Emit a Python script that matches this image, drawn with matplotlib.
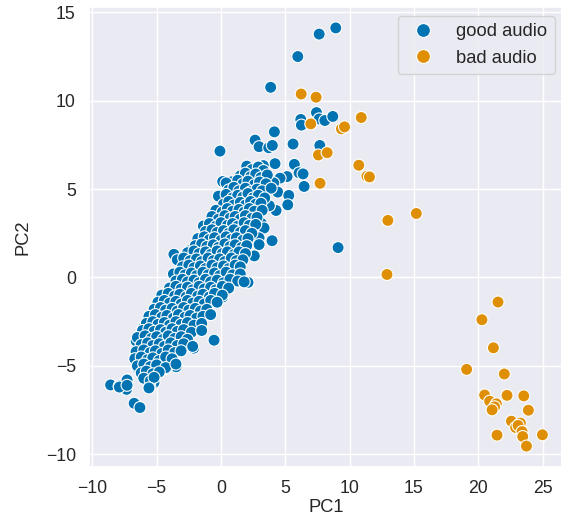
import matplotlib
matplotlib.use("Agg")
import matplotlib.pyplot as plt
import seaborn as sns
import pandas as pd

# bad audio points (PC1, PC2)
bad_x = [6.23, 7.39, 10.9, 6.98, 9.36, 9.6, 7.57, 8.25, 10.71, 11.34, 11.54, 7.7,
         15.18, 12.97, 12.9, 21.53, 20.28, 21.17, 19.09, 22.02, 20.49, 20.88, 21.4,
         21.27, 21.07, 22.23, 23.53, 23.89, 22.57, 23.27, 22.9, 23.09, 23.4, 23.45,
         21.45, 24.98, 23.74]
bad_y = [10.38, 10.2, 9.05, 8.69, 8.41, 8.52, 6.93, 7.06, 6.35, 5.73, 5.69, 5.33,
         3.62, 3.23, 0.17, -1.39, -2.39, -3.98, -5.2, -5.46, -6.65, -7.0, -7.15,
         -7.32, -7.49, -6.67, -6.7, -7.51, -8.13, -8.24, -8.49, -8.37, -8.72, -9.0,
         -8.92, -8.9, -9.54]

# good audio: outliers around the main cluster
good_out = [
    (8.92, 14.12), (7.63, 13.77), (5.97, 12.5), (3.86, 10.76), (7.42, 9.33),
    (6.2, 8.94), (6.25, 8.62), (7.63, 8.97), (8.07, 8.88), (8.69, 9.11),
    (4.15, 8.24), (5.6, 7.55), (7.68, 7.47), (2.65, 7.77), (2.96, 7.4),
    (3.71, 7.34), (3.99, 7.47), (4.2, 6.44), (5.7, 6.4), (3.29, 6.33),
    (3.03, 5.99), (6.07, 5.92), (6.38, 5.86), (5.14, 5.71), (4.59, 5.62),
    (6.46, 5.15), (4.1, 5.35), (4.41, 4.83), (5.27, 4.64), (5.19, 4.11),
    (4.28, 3.79), (3.76, 4.06), (3.97, 2.08), (9.1, 1.69), (3.14, 3.06),
    (3.35, 2.8), (2.96, 2.24), (2.96, 1.86), (2.59, 1.22), (-0.08, 7.15),
    (2.33, 6.12), (2.0, 6.03), (0.13, 5.43), (0.8, 5.41), (1.66, 5.65),
    (2.52, 5.52), (-1.37, 2.91), (-3.66, 1.31), (-2.44, 1.52), (2.1, -0.28),
    (0.13, -1.11), (-0.54, -3.55), (-2.12, -4.0), (-4.77, -1.56), (-6.04, -2.85),
    (-6.59, -3.6), (-6.72, -4.55), (-6.51, -5.09), (-7.26, -5.77), (-8.58, -6.08),
    (-7.91, -6.14), (-7.34, -6.33), (-6.75, -7.12), (-6.3, -7.36), (-5.21, -5.95),
    (-5.84, -5.48), (-5.53, -6.18), (-3.48, -5.05), (-4.26, -5.15),
]

# good audio: the dense cluster, estimated row by row
good_core = [
    (2.0, 6.3), (2.4, 6.1), (2.9, 6.25), (3.3, 6.05),
    (1.5, 5.75), (1.9, 5.9), (2.3, 5.7), (2.7, 5.85), (3.1, 5.65), (3.6, 5.8),
    (0.4, 5.35), (1.3, 5.5), (1.7, 5.3), (2.1, 5.45), (2.6, 5.25), (3.0, 5.4), (3.5, 5.3),
    (0.6, 4.95), (1.0, 5.1), (1.4, 4.9), (1.9, 5.05), (2.3, 4.85), (2.8, 5.0), (3.2, 4.9), (3.9, 5.05),
    (-0.2, 4.6), (0.4, 4.7), (0.9, 4.5), (1.3, 4.65), (1.7, 4.55), (2.1, 4.75), (2.5, 4.5), (2.9, 4.65), (3.4, 4.5),
    (0.2, 4.15), (0.6, 4.3), (1.0, 4.1), (1.5, 4.25), (1.9, 4.1), (2.3, 4.3), (2.7, 4.15), (3.1, 4.2),
    (-0.4, 3.8), (0.1, 3.7), (0.5, 3.9), (0.9, 3.75), (1.4, 3.85), (1.8, 3.7), (2.2, 3.9), (2.6, 3.75), (3.2, 3.8),
    (-0.7, 3.45), (-0.2, 3.3), (0.3, 3.5), (0.7, 3.35), (1.1, 3.45), (1.5, 3.3), (1.9, 3.5), (2.4, 3.35), (2.8, 3.4),
    (-0.9, 3.05), (-0.4, 2.9), (0.0, 3.1), (0.5, 2.95), (0.9, 3.05), (1.3, 2.9), (1.8, 3.1), (2.2, 2.95), (2.7, 3.0),
    (-1.2, 2.6), (-0.7, 2.7), (-0.3, 2.55), (0.2, 2.65), (0.6, 2.5), (1.0, 2.7), (1.5, 2.55), (1.9, 2.65), (2.4, 2.5),
    (-1.8, 2.2), (-1.3, 2.3), (-0.9, 2.15), (-0.5, 2.25), (0.0, 2.1), (0.4, 2.3), (0.8, 2.15), (1.2, 2.25), (1.7, 2.1), (2.1, 2.2),
    (-2.0, 1.8), (-1.5, 1.9), (-1.1, 1.75), (-0.6, 1.85), (-0.2, 1.7), (0.3, 1.9), (0.7, 1.75), (1.1, 1.85), (1.6, 1.7), (2.0, 1.8),
    (-2.6, 1.4), (-2.1, 1.5), (-1.7, 1.35), (-1.2, 1.45), (-0.8, 1.3), (-0.3, 1.5), (0.1, 1.35), (0.5, 1.45), (1.0, 1.3), (1.4, 1.45), (1.9, 1.35),
    (-3.4, 1.0), (-2.9, 1.1), (-2.4, 0.95), (-1.9, 1.05), (-1.5, 0.9), (-1.0, 1.1), (-0.6, 0.95), (-0.1, 1.05), (0.3, 0.9), (0.8, 1.1), (1.2, 0.95), (1.7, 1.0),
    (-3.0, 0.6), (-2.5, 0.7), (-2.1, 0.55), (-1.6, 0.65), (-1.2, 0.5), (-0.7, 0.7), (-0.3, 0.55), (0.2, 0.65), (0.6, 0.5), (1.1, 0.7), (1.5, 0.6),
    (-3.7, 0.2), (-3.2, 0.3), (-2.8, 0.15), (-2.3, 0.25), (-1.9, 0.1), (-1.4, 0.3), (-1.0, 0.15), (-0.5, 0.25), (-0.1, 0.1), (0.4, 0.3), (0.9, 0.15), (1.5, 0.2),
    (-3.5, -0.2), (-3.0, -0.1), (-2.6, -0.25), (-2.1, -0.15), (-1.7, -0.3), (-1.2, -0.1), (-0.8, -0.25), (-0.3, -0.15), (0.2, -0.3), (0.7, -0.1), (1.3, -0.2), (1.8, -0.25),
    (-4.0, -0.6), (-3.5, -0.5), (-3.1, -0.65), (-2.6, -0.55), (-2.2, -0.7), (-1.7, -0.5), (-1.3, -0.65), (-0.8, -0.55), (-0.4, -0.7), (0.1, -0.5), (0.6, -0.6),
    (-4.6, -1.0), (-4.1, -0.9), (-3.6, -1.05), (-3.2, -0.95), (-2.7, -1.1), (-2.3, -0.9), (-1.8, -1.05), (-1.4, -0.95), (-0.9, -1.1), (-0.5, -0.9), (0.1, -1.0),
    (-4.9, -1.4), (-4.4, -1.3), (-4.0, -1.45), (-3.5, -1.35), (-3.1, -1.5), (-2.6, -1.3), (-2.2, -1.45), (-1.7, -1.35), (-1.3, -1.5), (-0.8, -1.3), (-0.3, -1.4),
    (-5.2, -1.8), (-4.7, -1.7), (-4.3, -1.85), (-3.8, -1.75), (-3.4, -1.9), (-2.9, -1.7), (-2.5, -1.85), (-2.0, -1.75), (-1.6, -1.9), (-1.1, -1.8),
    (-5.6, -2.2), (-5.1, -2.1), (-4.6, -2.25), (-4.2, -2.15), (-3.7, -2.3), (-3.3, -2.1), (-2.8, -2.25), (-2.4, -2.15), (-1.9, -2.3), (-1.4, -2.2), (-0.8, -2.1),
    (-5.8, -2.6), (-5.3, -2.5), (-4.9, -2.65), (-4.4, -2.55), (-4.0, -2.7), (-3.5, -2.5), (-3.1, -2.65), (-2.6, -2.55), (-2.1, -2.7), (-1.5, -2.6),
    (-6.1, -3.0), (-5.6, -2.9), (-5.2, -3.05), (-4.7, -2.95), (-4.3, -3.1), (-3.8, -2.9), (-3.4, -3.05), (-2.9, -2.95), (-2.3, -3.1), (-1.5, -3.0),
    (-6.5, -3.4), (-5.9, -3.3), (-5.4, -3.45), (-5.0, -3.35), (-4.5, -3.5), (-4.1, -3.3), (-3.6, -3.45), (-3.1, -3.35), (-2.6, -3.5),
    (-6.2, -3.8), (-5.7, -3.7), (-5.3, -3.85), (-4.8, -3.75), (-4.4, -3.9), (-3.9, -3.7), (-3.4, -3.85), (-2.9, -3.75), (-2.2, -3.9),
    (-6.6, -4.2), (-6.0, -4.1), (-5.5, -4.25), (-5.1, -4.15), (-4.6, -4.3), (-4.1, -4.1), (-3.6, -4.25), (-3.1, -4.15),
    (-6.7, -4.6), (-6.2, -4.5), (-5.7, -4.65), (-5.3, -4.55), (-4.8, -4.7), (-4.3, -4.5), (-3.8, -4.6),
    (-6.5, -5.0), (-6.0, -4.9), (-5.5, -5.05), (-5.0, -4.95), (-4.3, -5.1), (-3.5, -4.9),
    (-6.2, -5.4), (-5.8, -5.3), (-5.3, -5.45), (-4.8, -5.35),
    (-7.3, -5.8), (-6.0, -5.7), (-5.5, -5.85), (-5.2, -5.65),
    (-7.9, -6.2), (-7.3, -6.1), (-5.6, -6.25),
]

good_x = [p[0] for p in good_out + good_core]
good_y = [p[1] for p in good_out + good_core]

df = pd.DataFrame({
    "PC1": good_x + bad_x,
    "PC2": good_y + bad_y,
    "label": ["good audio"] * len(good_x) + ["bad audio"] * len(bad_x),
})

sns.set_theme(style="darkgrid")
plt.rcParams["font.family"] = ["Liberation Sans", "DejaVu Sans"]

fig, ax = plt.subplots(figsize=(5.61, 5.26), dpi=100)
# the plot area runs slightly past the right edge of the image, as in the reference
fig.subplots_adjust(left=89 / 561, right=564 / 561, top=1 - 7 / 526, bottom=1 - 467 / 526)

sns.scatterplot(data=df, x="PC1", y="PC2", hue="label",
                palette=["#0173b2", "#de8f05"], s=75, edgecolor="white",
                linewidth=0.8, ax=ax)

ax.set_xticks([-10, -5, 0, 5, 10, 15, 20, 25])
ax.set_yticks([-10, -5, 0, 5, 10, 15])
ax.tick_params(labelsize=12.7)
ax.set_xlabel("PC1", fontsize=13.2, labelpad=1)
ax.set_ylabel("PC2", fontsize=13.2, labelpad=10)
ax.legend(loc="upper right", fontsize=13.2, markerscale=1.15)

fig.savefig("out.png", dpi=100)
